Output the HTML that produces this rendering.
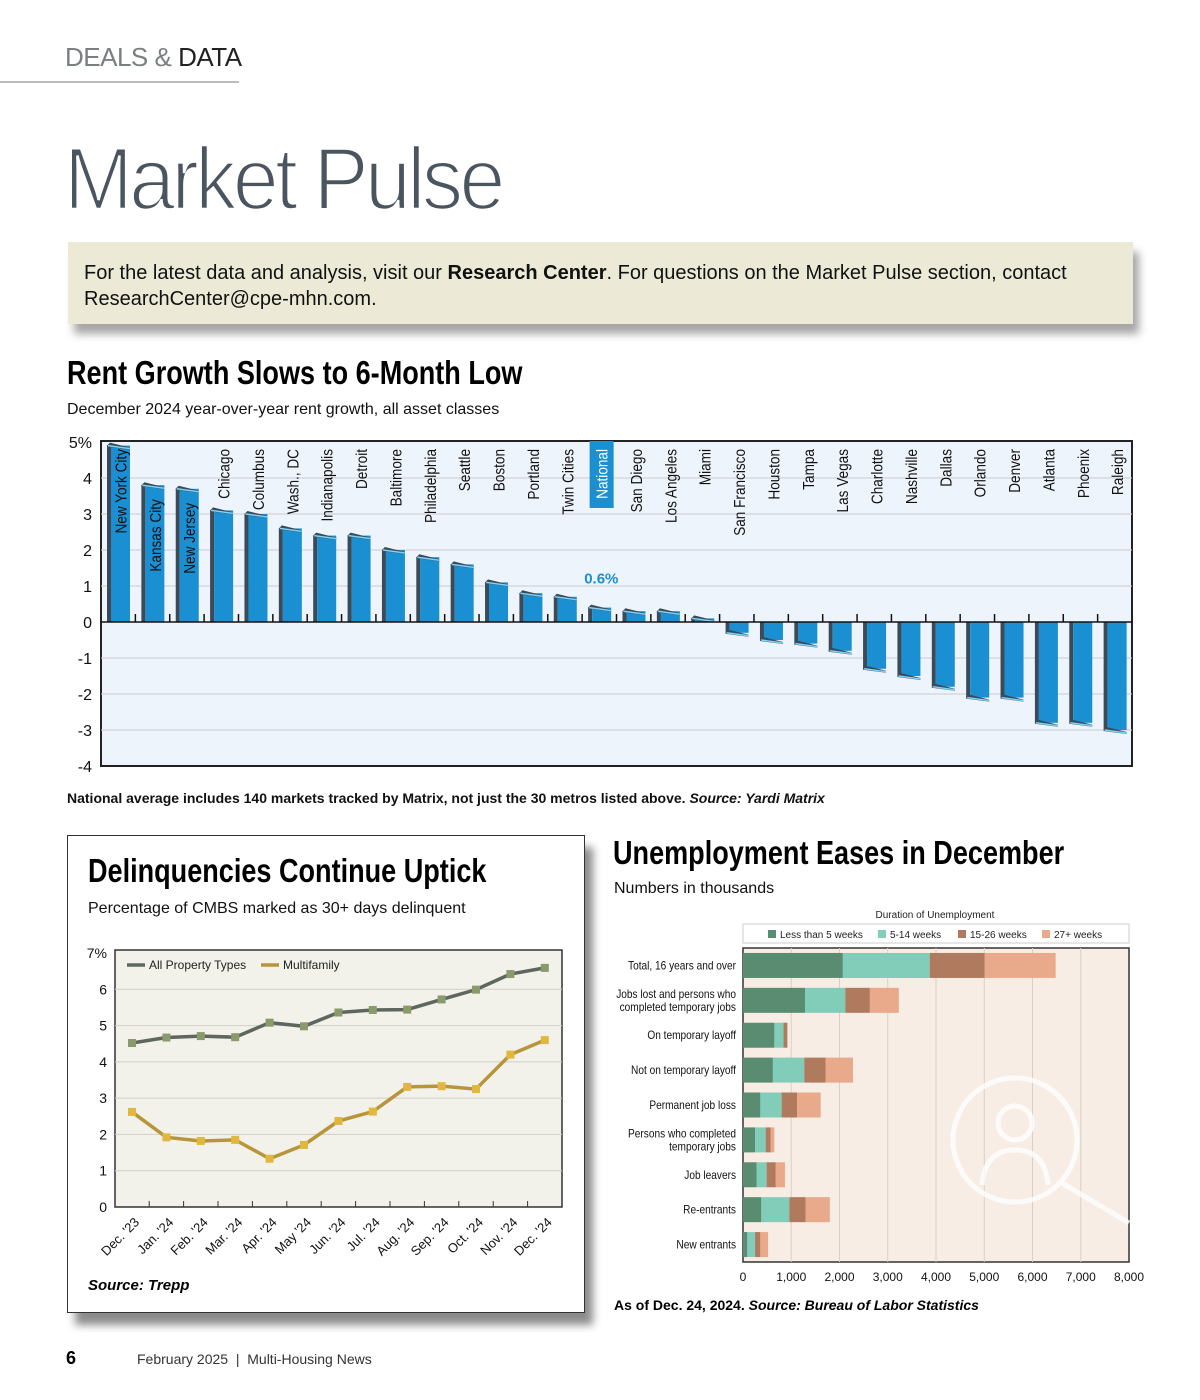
<!DOCTYPE html>
<html><head><meta charset="utf-8">
<style>
body{margin:0;width:1200px;height:1400px;background:#fff;position:relative;font-family:"Liberation Sans",sans-serif;overflow:hidden}
.a{position:absolute}
.cond{font-family:"Liberation Sans Narrow","Liberation Sans",sans-serif;font-weight:bold;transform-origin:0 0;transform:scaleX(0.82);white-space:nowrap;color:#000}
</style></head><body>
<div class="a" style="left:65px;top:42px;font-size:26px;color:#7a7f82;letter-spacing:-0.5px">DEALS &amp; <span style="color:#222">DATA</span></div>
<div class="a" style="left:0;top:81px;width:239px;height:2px;background:#bbb"></div>
<div class="a" style="left:64px;top:128px;font-size:88px;color:#4a5560;letter-spacing:-4px;-webkit-text-stroke:2.6px #fff;paint-order:normal;transform-origin:0 0;transform:scaleX(0.94)">Market Pulse</div>
<div class="a" style="left:68px;top:242px;width:1065px;height:82px;background:#ecead6;box-shadow:6px 10px 8px rgba(0,0,0,.35);font-size:20px;color:#111;line-height:26px;box-sizing:border-box;padding:18px 16px">For the latest data and analysis, visit our <b>Research Center</b>. For questions on the Market Pulse section, contact ResearchCenter@cpe-mhn.com.</div>
<div class="a cond" style="left:67px;top:354px;font-size:33px">Rent Growth Slows to 6-Month Low</div>
<div class="a" style="left:67px;top:401px;font-size:16px;color:#111">December 2024 year-over-year rent growth, all asset classes</div>
<svg class="a" style="left:0;top:430px" width="1200" height="350" id="rent"></svg>
<div class="a" style="left:67px;top:790px;font-size:14px;font-weight:bold;color:#111">National average includes 140 markets tracked by Matrix, not just the 30 metros listed above. <i>Source: Yardi Matrix</i></div>

<div class="a" style="left:67px;top:835px;width:516px;height:476px;border:1.5px solid #333;background:#fff;box-shadow:8px 12px 8px rgba(0,0,0,.45)"></div>
<div class="a cond" style="left:88px;top:852px;font-size:33px">Delinquencies Continue Uptick</div>
<div class="a" style="left:88px;top:900px;font-size:16px;color:#111">Percentage of CMBS marked as 30+ days delinquent</div>
<svg class="a" style="left:67px;top:935px" width="516" height="330" id="delq"></svg>
<div class="a" style="left:88px;top:1277px;font-size:15px;font-weight:bold;font-style:italic">Source: Trepp</div>

<div class="a cond" style="left:613px;top:834px;font-size:33px">Unemployment Eases in December</div>
<div class="a" style="left:614px;top:880px;font-size:16px;color:#111">Numbers in thousands</div>
<svg class="a" style="left:600px;top:905px" width="600" height="385" id="unemp"></svg>
<div class="a" style="left:614px;top:1297px;font-size:14px;font-weight:bold">As of Dec. 24, 2024. <i>Source: Bureau of Labor Statistics</i></div>

<div class="a" style="left:66px;top:1348px;font-size:18px;font-weight:bold">6</div>
<div class="a" style="left:137px;top:1351px;font-size:14px;color:#333">February 2025&nbsp; |&nbsp; Multi-Housing News</div>

<script>
const NS='http://www.w3.org/2000/svg';
function mk(p,t,a){const e=document.createElementNS(NS,t);for(const k in a)e.setAttribute(k,a[k]);p.appendChild(e);return e;}

// ---------- Rent growth chart ----------
const rentCities=["New York City","Kansas City","New Jersey","Chicago","Columbus","Wash., DC","Indianapolis","Detroit","Baltimore","Philadelphia","Seattle","Boston","Portland","Twin Cities","National","San Diego","Los Angeles","Miami","San Francisco","Houston","Tampa","Las Vegas","Charlotte","Nashville","Dallas","Orlando","Denver","Atlanta","Phoenix","Raleigh"];
const rentValues=[4.9,3.8,3.7,3.1,3.0,2.6,2.4,2.4,2.0,1.8,1.6,1.1,0.8,0.7,0.4,0.3,0.3,0.1,-0.3,-0.5,-0.6,-0.8,-1.3,-1.5,-1.8,-2.1,-2.1,-2.8,-2.8,-3.0];
const rentTicks=[5,4,3,2,1,0,-1,-2,-3,-4];
const rentTickLabels=["5%","4","3","2","1","0","-1","-2","-3","-4"];
const nationalLabel="0.6%";
(function(){
 const s=document.getElementById('rent');
 const L=101,R=1132,T=11,B=336;
 const y=v=>192-v*36, bw=(R-L)/rentCities.length, x=i=>L+i*bw;
 const bg=mk(s,'rect',{x:L,y:T,width:R-L,height:B-T,fill:'#eef4fb',stroke:'#222','stroke-width':2});
 
 rentTicks.forEach((t,i)=>{
  if(t!==0&&t!==5&&t!==-4){const g=mk(s,'line',{x1:L,x2:R,y1:y(t),y2:y(t),stroke:'#c9cdd2','stroke-width':1});}
  const tl=mk(s,'text',{x:92,y:y(t)+6,'text-anchor':'end','font-size':16,fill:'#111','font-family':'Liberation Sans'});tl.textContent=rentTickLabels[i];
  
 });
 const nat=rentCities.indexOf('National');
 rentCities.forEach((c,i)=>{
  const v=rentValues[i],bx=x(i)+6,w=23,y0=y(0),y1=y(v);
  const top=Math.min(y0,y1),h=Math.abs(y1-y0);
  const sd=mk(s,'rect',{x:bx,y:top,width:4,height:h,fill:'#3a4a58'});
  
  const b=mk(s,'rect',{x:bx+4,y:top,width:w-4,height:h,fill:'#1a8fd1'});
  
  const cy=y1;
  const cap=mk(s,'polygon',{points:`${bx},${cy} ${bx+3},${cy-3} ${bx+w},${cy+2} ${bx+w},${cy+4} ${bx},${cy+1}`,fill:'#3a4a58'});
  
  const cap2=mk(s,'line',{x1:bx+1,y1:cy,x2:bx+w,y2:cy+3,stroke:'#7fd0f5','stroke-width':1.5});
  
  if(i>0){const tk=mk(s,'line',{x1:x(i),x2:x(i),y1:y0,y2:y0-8,stroke:'#111','stroke-width':1.5});}
  const cx=bx+w/2+2;
  if(i===nat){const hb=mk(s,'rect',{x:cx-12,y:T,width:24,height:67,fill:'#1a8fd1'});}
  const inside=(y1-10>T+8)&&i<3;
  const ty=inside?y1+14:T+8;
  const tx=mk(s,'text',{transform:`translate(${cx+6},${ty}) rotate(-90) scale(0.85,1)`,'text-anchor':'end','font-size':16,fill:i===nat?'#fff':'#111','font-family':'Liberation Sans'});
  tx.textContent=c;
  
 });
 const zl=mk(s,'line',{x1:L,x2:R,y1:y(0),y2:y(0),stroke:'#111','stroke-width':1.5});
 
 const nl=mk(s,'text',{x:x(nat)+bw/2+2,y:y(rentValues[nat])-24,'text-anchor':'middle','font-size':15,'font-weight':'bold',fill:'#1a8fd1','font-family':'Liberation Sans'});
 nl.textContent=nationalLabel;
})();

// ---------- Delinquency chart ----------
const delqMonths=["Dec. '23","Jan. '24","Feb. '24","Mar. '24","Apr. '24","May '24","Jun. '24","Jul. '24","Aug. '24","Sep. '24","Oct. '24","Nov. '24","Dec. '24"];
const delqAll=[4.52,4.67,4.71,4.68,5.08,4.98,5.36,5.43,5.44,5.72,5.99,6.42,6.59];
const delqMulti=[2.62,1.92,1.82,1.85,1.33,1.71,2.37,2.63,3.31,3.33,3.25,4.20,4.60];
const delqTicks=[0,1,2,3,4,5,6,7];
const delqTickLabels=["0","1","2","3","4","5","6","7%"];
(function(){
 const s=document.getElementById('delq');
 const L=48,R=495,T=15,B=272;
 const y=v=>B-v*(B-18)/7, x=i=>65+i*34.4;
 const bg=mk(s,'rect',{x:L,y:T,width:R-L,height:B-T,fill:'#f2f2ea',stroke:'#333','stroke-width':1.5});
 
 delqTicks.forEach((t,i)=>{
  if(t>0&&t<7){const g=mk(s,'line',{x1:L,x2:R,y1:y(t),y2:y(t),stroke:'#cfcfc6','stroke-width':1});}
  const tl=mk(s,'text',{x:40,y:y(t)+5,'text-anchor':'end','font-size':14,fill:'#111','font-family':'Liberation Sans'});tl.textContent=delqTickLabels[i];
  
 });
 delqMonths.forEach((m,i)=>{
  if(i>0){const tk=mk(s,'line',{x1:x(i)-17.2,x2:x(i)-17.2,y1:B,y2:B-6,stroke:'#333'});}
  const t=mk(s,'text',{transform:`translate(${x(i)+8},${B+16}) rotate(-45)`,'text-anchor':'end','font-size':13,fill:'#111','font-family':'Liberation Sans'});t.textContent=m;
  
 });
 [[delqAll,'#5d665f','#8a9a6a','all-property-types-line'],[delqMulti,'#b8953a','#e0b840','multifamily-line']].forEach(([d,c,mc,n])=>{
  const p=mk(s,'polyline',{points:d.map((v,i)=>x(i)+','+y(v)).join(' '),fill:'none',stroke:c,'stroke-width':3.5});
  
  d.forEach((v,i)=>{const r=mk(s,'rect',{x:x(i)-4,y:y(v)-4,width:8,height:8,fill:mc});});
 });
 [['All Property Types','#5d665f',60],['Multifamily','#b8953a',194]].forEach(([l,c,lx])=>{
  const ln=mk(s,'line',{x1:lx,x2:lx+18,y1:30,y2:30,stroke:c,'stroke-width':3.5});
  const t=mk(s,'text',{x:lx+22,y:34,'font-size':12,fill:'#222','font-family':'Liberation Sans'});t.textContent=l;
  
 });
})();

// ---------- Unemployment chart ----------
const unCategories=[["Total, 16 years and over"],["Jobs lost and persons who","completed temporary jobs"],["On temporary layoff"],["Not on temporary layoff"],["Permanent job loss"],["Persons who completed","temporary jobs"],["Job leavers"],["Re-entrants"],["New entrants"]];
const unLess5=[2070,1290,650,620,360,250,280,380,90];
const un5to14=[1800,830,190,650,440,220,210,580,160];
const un15to26=[1140,510,80,440,320,100,190,340,110];
const un27plus=[1470,600,0,570,490,80,190,500,160];
const unSeriesNames=["Less than 5 weeks","5-14 weeks","15-26 weeks","27+ weeks"];
const unTicks=[0,1000,2000,3000,4000,5000,6000,7000,8000];
const unTickLabels=["0","1,000","2,000","3,000","4,000","5,000","6,000","7,000","8,000"];
(function(){
 const s=document.getElementById('unemp');
 const L=143,R=529,T=43,B=357;
 const x=v=>L+v*(R-L)/8000, band=(B-T)/9;
 const cols=['#5a8c72','#82cdb9','#b07a5e','#e9aa8b'];
 const bg=mk(s,'rect',{x:L,y:T,width:R-L,height:B-T,fill:'#f8ede4',stroke:'#333','stroke-width':1.5});
 
 unTicks.forEach((t,i)=>{
  if(i>0&&i<8){const g=mk(s,'line',{x1:x(t),x2:x(t),y1:T,y2:B,stroke:'#d8d0c8','stroke-width':1});}
  const tl=mk(s,'text',{x:x(t),y:B+19,'text-anchor':'middle','font-size':12,fill:'#111','font-family':'Liberation Sans'});tl.textContent=unTickLabels[i];
  
 });
 const wm=mk(s,'g',{fill:'none',stroke:'#fff','stroke-width':5,opacity:.8});
 mk(wm,'circle',{cx:415,cy:235,r:62});mk(wm,'circle',{cx:415,cy:218,r:17});mk(wm,'path',{d:'M382 280 Q385 245 415 245 Q445 245 448 280'});mk(wm,'line',{x1:462,y1:278,x2:529,y2:318});
 const series=[unLess5,un5to14,un15to26,un27plus];
 unCategories.forEach((c,i)=>{
  const cy=T+band*i+band/2;let acc=0;
  series.forEach((sr,k)=>{const v=sr[i];if(v>0){const r=mk(s,'rect',{x:x(acc),y:cy-12.5,width:x(acc+v)-x(acc),height:25,fill:cols[k]});}acc+=v;});
  c.forEach((ln,j)=>{const t=mk(s,'text',{x:0,y:0,'text-anchor':'end','font-size':11.5,fill:'#111','font-family':'Liberation Sans',transform:`translate(136,${cy+4+(j-(c.length-1)/2)*13}) scale(0.88,1)`});
   t.textContent=ln;});
 });
 const lt=mk(s,'text',{x:335,y:13,'text-anchor':'middle','font-size':10,fill:'#222','font-family':'Liberation Sans'});lt.textContent='Duration of Unemployment';
 
 const lb=mk(s,'rect',{x:L,y:19,width:R-L,height:19,fill:'#fff',stroke:'#ccc'});
 const lx=[168,278,358,442];
 unSeriesNames.forEach((n,k)=>{
  const r=mk(s,'rect',{x:lx[k],y:25,width:8,height:8,fill:cols[k]});
  const t=mk(s,'text',{x:lx[k]+12,y:33,'font-size':10,fill:'#222','font-family':'Liberation Sans'});t.textContent=n;
  
 });
})();
</script>
</body></html>
